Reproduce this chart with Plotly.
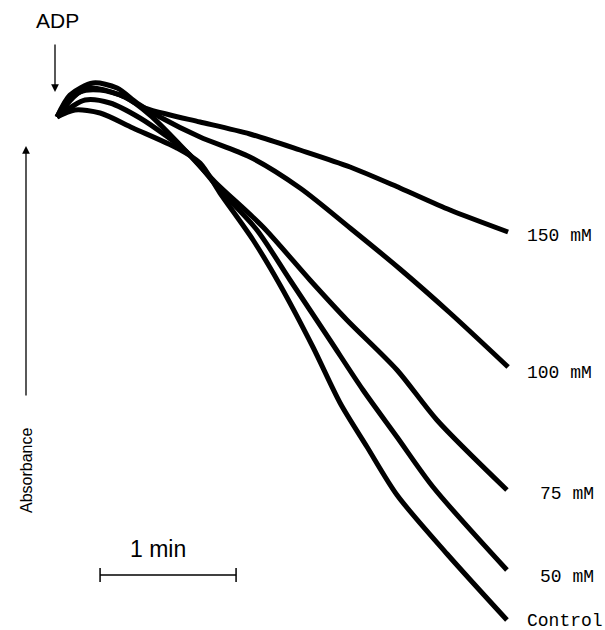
import plotly.graph_objects as go

# Time (s after ADP addition) and absorbance (arbitrary units)
t_150 = [0, 4.9, 14.6, 27.8, 38.8, 49.9, 63.1, 85.1, 107.2, 129.3, 151.3, 173.4, 199.0]
a_150 = [5.13, 5.30, 5.42, 5.35, 5.22, 5.15, 5.08, 4.96, 4.80, 4.63, 4.42, 4.20, 3.98]

t_100 = [0, 5.7, 15.9, 26.5, 35.3, 45.4, 63.1, 85.1, 107.2, 129.3, 151.3, 173.4, 199.0]
a_100 = [5.13, 5.35, 5.47, 5.42, 5.27, 5.13, 4.93, 4.73, 4.42, 4.02, 3.61, 3.17, 2.63]

t_75 = [0, 10.1, 19.0, 30.0, 41.0, 54.3, 69.7, 90.9, 111.6, 127.9, 150.0, 167.6, 198.5]
a_75 = [5.13, 5.38, 5.40, 5.33, 5.15, 4.85, 4.48, 4.03, 3.50, 3.10, 2.60, 2.10, 1.40]

t_50 = [0, 12.4, 23.4, 36.6, 47.6, 58.7, 71.9, 88.2, 102.8, 120.4, 135.0, 150.0, 165.9, 198.5]
a_50 = [5.13, 5.30, 5.27, 5.12, 4.95, 4.75, 4.40, 4.00, 3.50, 2.90, 2.40, 1.93, 1.43, 0.60]

t_ctl = [0, 7.9, 19.0, 33.5, 52.9, 63.1, 71.9, 86.5, 98.4, 112.9, 124.9, 136.8, 150.0, 172.1, 198.5]
a_ctl = [5.13, 5.20, 5.17, 5.02, 4.82, 4.67, 4.37, 3.90, 3.45, 2.83, 2.27, 1.83, 1.35, 0.76, 0.10]

series_names = ["150 mM", "100 mM", "75 mM", "50 mM", "Control"]
series_t = [t_150, t_100, t_75, t_50, t_ctl]
series_a = [a_150, a_100, a_75, a_50, a_ctl]

scale_bar_start = 19.0   # s
scale_bar_len = 60.0     # 1 min
scale_bar_y = 0.55

W, H = 605, 630
PX_PER_S = 136 / 60.0
X0_PX = 57
x_range = [-X0_PX / PX_PER_S, (W - X0_PX) / PX_PER_S]
y_range = [0, 6.3]

SANS = "Liberation Sans, Arial, sans-serif"
MONO = "Liberation Mono, Courier New, monospace"

fig = go.Figure()
for name, t, a in zip(series_names, series_t, series_a):
    fig.add_trace(go.Scatter(
        x=t, y=a, mode="lines", name=name,
        line=dict(color="black", width=5, shape="spline", smoothing=0.8),
        showlegend=False, hoverinfo="skip",
    ))

# series end labels
label_y_px = [236, 373, 494, 577, 621]
label_x_px = [525, 525, 538, 538, 525]
for name, lx, ly in zip(series_names, label_x_px, label_y_px):
    fig.add_annotation(
        x=lx / W, y=1 - ly / H, xref="paper", yref="paper",
        text=name, showarrow=False, xanchor="left", yanchor="middle",
        font=dict(family=MONO, size=18, color="black"),
    )

# scale bar
fig.add_shape(type="line", xref="x", yref="y",
              x0=scale_bar_start, x1=scale_bar_start + scale_bar_len,
              y0=scale_bar_y, y1=scale_bar_y, line=dict(color="black", width=1.5))
for xx in (scale_bar_start, scale_bar_start + scale_bar_len):
    fig.add_shape(type="line", xref="x", yref="y", x0=xx, x1=xx,
                  y0=scale_bar_y - 0.07, y1=scale_bar_y + 0.07,
                  line=dict(color="black", width=1.5))
fig.add_annotation(x=158 / W, y=1 - 549 / H, xref="paper", yref="paper",
                   xanchor="center", yanchor="middle",
                   text="1 min", showarrow=False,
                   font=dict(family=SANS, size=23, color="black"))

# ADP label and arrow
fig.add_annotation(x=57 / W, y=1 - 20 / H, xref="paper", yref="paper", text="ADP",
                   xanchor="center", yanchor="middle", showarrow=False,
                   font=dict(family=SANS, size=21, color="black"))
fig.add_annotation(x=55 / W, y=1 - 92 / H, xref="paper", yref="paper", text="",
                   showarrow=True, ax=0, ay=-49, arrowhead=2, arrowsize=1.2,
                   arrowwidth=1.3, arrowcolor="black")

# Absorbance label and arrow
fig.add_annotation(x=26 / W, y=1 - 146 / H, xref="paper", yref="paper", text="",
                   showarrow=True, ax=0, ay=251, arrowhead=2, arrowsize=1.2,
                   arrowwidth=1.3, arrowcolor="black")
fig.add_annotation(x=26 / W, y=1 - 471 / H, xref="paper", yref="paper", text="Absorbance",
                   xanchor="center", yanchor="middle",
                   showarrow=False, textangle=-90,
                   font=dict(family=SANS, size=16, color="black"))

fig.update_layout(
    width=W, height=H,
    margin=dict(l=0, r=0, t=0, b=0),
    paper_bgcolor="white", plot_bgcolor="white",
    xaxis=dict(range=x_range, visible=False, fixedrange=True),
    yaxis=dict(range=y_range, visible=False, fixedrange=True),
)

fig.write_html("out.html", config={"displayModeBar": False},
               post_script="document.body.style.margin='0';document.body.style.overflow='hidden';")
